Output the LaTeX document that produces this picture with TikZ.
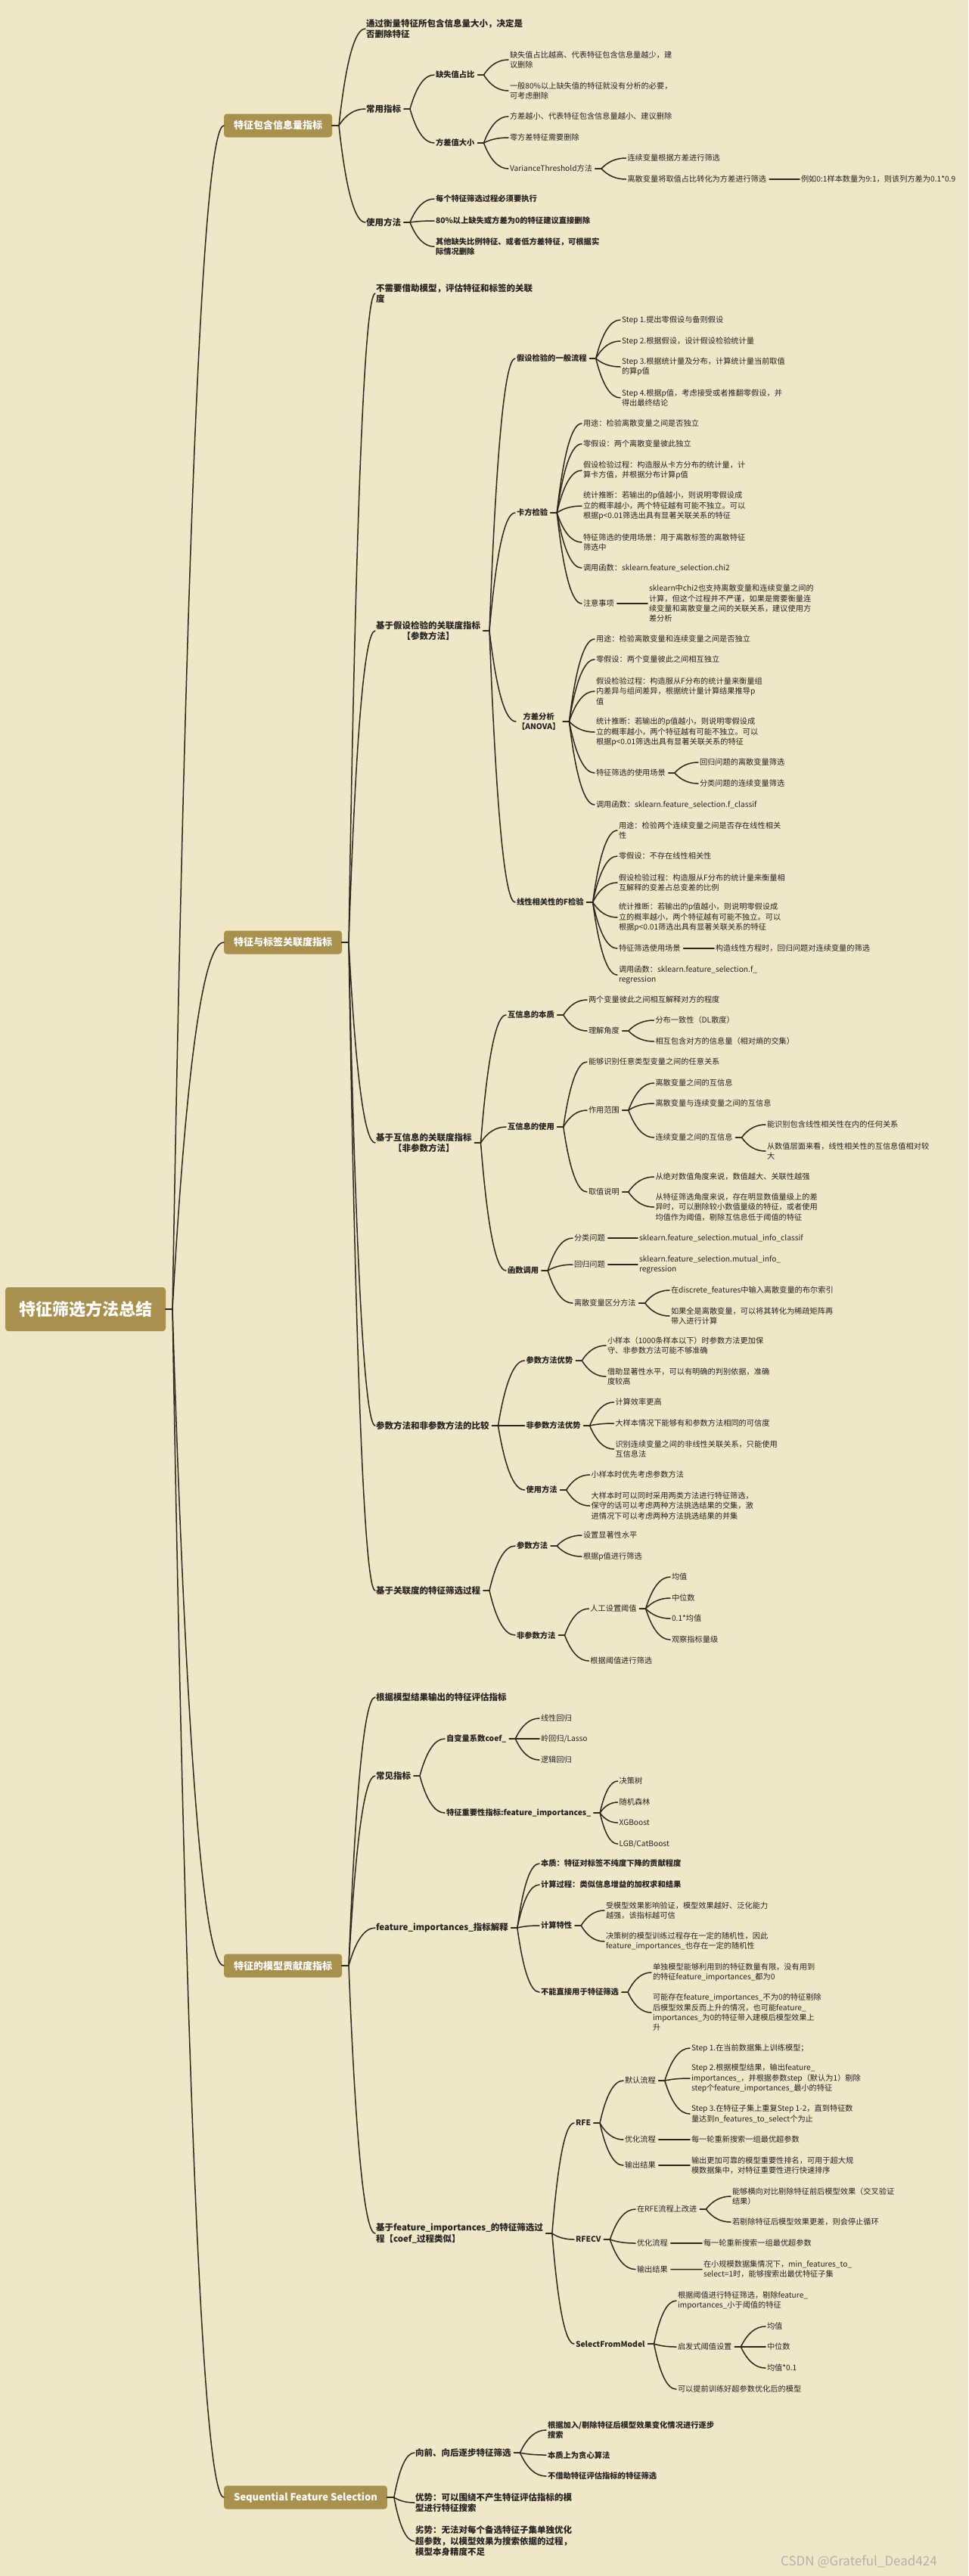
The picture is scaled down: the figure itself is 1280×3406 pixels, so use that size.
\documentclass[tikz,border=0pt]{standalone}
\usepackage{fontspec}
\setmainfont{Noto Sans CJK SC}
\usetikzlibrary{calc}
\definecolor{bg}{HTML}{F0E6C8}
\definecolor{boxc}{HTML}{A8914F}
\definecolor{ln}{HTML}{2E281C}
\definecolor{tx}{HTML}{262320}
\definecolor{wmc}{HTML}{B4B0A8}
\tikzset{
 conn/.style={draw=ln, line width=1.5pt, line cap=round},
 base/.style={anchor=west, align=left, inner sep=1pt, outer sep=0pt, text=tx},
 lvtwo/.style={base, font=\bfseries\fontsize{11.5}{14.5}\selectfont},
 lvthree/.style={base, font=\bfseries\fontsize{10.3}{13.3}\selectfont},
 lvfour/.style={base, font=\fontsize{10.2}{13.3}\selectfont},
 box/.style={anchor=west, fill=boxc, rounded corners=4pt, text=white, font=\bfseries\fontsize{13}{15}\selectfont, minimum height=31pt, inner xsep=13pt, inner ysep=2pt, outer sep=0pt},
}
\newcommand\lnk[2]{%
 \path (#1.east) ++(3pt,0) coordinate (lkA) ++(8pt,0) coordinate (lkB);
 \path (#2.west) ++(-1pt,0) coordinate (lkG);
 \path let \p1=(lkB), \p2=(lkG) in (0.6*\x1+0.4*\x2,\y2) coordinate (lkC);
 \draw[conn] (lkA) -- (lkB) .. controls ($(lkB)!0.6667!(lkC)$) and ($(lkG)!0.6667!(lkC)$) .. (lkG);}
\newcommand\lnkb[2]{%
 \path (#1.east) coordinate (lkA) ++(9pt,0) coordinate (lkB);
 \path (#2.west) coordinate (lkG);
 \path let \p1=(lkB), \p2=(lkG) in (0.6*\x1+0.4*\x2,\y2) coordinate (lkC);
 \draw[conn] (lkA) -- (lkB) .. controls ($(lkB)!0.6667!(lkC)$) and ($(lkG)!0.6667!(lkC)$) .. (lkG);}
\begin{document}
\begin{tikzpicture}[x=1pt,y=1pt]
\fill[bg] (0,0) rectangle (1280,-3406);
\useasboundingbox (0,0) rectangle (1280,-3406);

% root
\node[box, font=\bfseries\fontsize{22}{26}\selectfont, minimum height=58pt, inner xsep=18pt] (root) at (7,-1731) {特征筛选方法总结};

% level 1
\node[box] (b1) at (296,-166) {特征包含信息量指标};
\node[box] (b2) at (296,-1246) {特征与标签关联度指标};
\node[box] (b3) at (296,-2599) {特征的模型贡献度指标};
\node[box] (b4) at (296,-3302) {Sequential Feature Selection};
\lnkb{root}{b1}\lnkb{root}{b2}\lnkb{root}{b3}\lnkb{root}{b4}

% ---------- section 1
\node[lvtwo] (a1) at (483,-38) {通过衡量特征所包含信息量大小，决定是\\否删除特征};
\node[lvtwo] (a2) at (483,-144) {常用指标};
\node[lvtwo] (a3) at (483,-294) {使用方法};
\lnkb{b1}{a1}\lnkb{b1}{a2}\lnkb{b1}{a3}
\node[lvthree] (a21) at (575,-99) {缺失值占比};
\node[lvthree] (a22) at (575,-189) {方差值大小};
\lnk{a2}{a21}\lnk{a2}{a22}
\node[lvfour] (a211) at (673,-79) {缺失值占比越高、代表特征包含信息量越少，建\\议删除};
\node[lvfour] (a212) at (673,-120) {一般80\%以上缺失值的特征就没有分析的必要，\\可考虑删除};
\lnk{a21}{a211}\lnk{a21}{a212}
\node[lvfour] (a221) at (673,-154) {方差越小、代表特征包含信息量越小、建议删除};
\node[lvfour] (a222) at (673,-182) {零方差特征需要删除};
\node[lvfour] (a223) at (673,-223) {VarianceThreshold方法};
\lnk{a22}{a221}\lnk{a22}{a222}\lnk{a22}{a223}
\node[lvfour] (a2231) at (828.5,-209) {连续变量根据方差进行筛选};
\node[lvfour] (a2232) at (828.5,-237) {离散变量将取值占比转化为方差进行筛选};
\lnk{a223}{a2231}\lnk{a223}{a2232}
\node[lvfour] (a22321) at (1058,-237) {例如0:1样本数量为9:1，则该列方差为0.1*0.9};
\lnk{a2232}{a22321}
\node[lvthree] (a31) at (575,-263) {每个特征筛选过程必须要执行};
\node[lvthree] (a32) at (575,-292) {80\%以上缺失或方差为0的特征建议直接删除};
\node[lvthree] (a33) at (575,-326) {其他缺失比例特征、或者低方差特征，可根据实\\际情况删除};
\lnk{a3}{a31}\lnk{a3}{a32}\lnk{a3}{a33}

% ---------- section 2
\node[lvtwo] (c1) at (496,-388) {不需要借助模型，评估特征和标签的关联\\度};
\node[lvtwo, align=center] (c2) at (496,-834) {基于假设检验的关联度指标\\【参数方法】};
\node[lvtwo, align=center] (c3) at (496,-1511) {基于互信息的关联度指标\\【非参数方法】};
\node[lvtwo] (c4) at (496,-1885) {参数方法和非参数方法的比较};
\node[lvtwo] (c5) at (496,-2103) {基于关联度的特征筛选过程};
\lnkb{b2}{c1}\lnkb{b2}{c2}\lnkb{b2}{c3}\lnkb{b2}{c4}\lnkb{b2}{c5}

\node[lvthree] (c21) at (682,-474) {假设检验的一般流程};
\node[lvthree] (c22) at (682,-678) {卡方检验};
\node[lvthree, align=center] (c23) at (683,-954) {方差分析\\【ANOVA】};
\node[lvthree] (c24) at (682,-1193) {线性相关性的F检验};
\lnk{c2}{c21}\lnk{c2}{c22}\lnk{c2}{c23}\lnk{c2}{c24}

\node[lvfour] (c211) at (821,-423) {Step 1.提出零假设与备则假设};
\node[lvfour] (c212) at (821,-451) {Step 2.根据假设，设计假设检验统计量};
\node[lvfour] (c213) at (821,-485) {Step 3.根据统计量及分布，计算统计量当前取值\\的算p值};
\node[lvfour] (c214) at (821,-526) {Step 4.根据p值，考虑接受或者推翻零假设，并\\得出最终结论};
\lnk{c21}{c211}\lnk{c21}{c212}\lnk{c21}{c213}\lnk{c21}{c214}

\node[lvfour] (c221) at (770,-560) {用途：检验离散变量之间是否独立};
\node[lvfour] (c222) at (770,-587) {零假设：两个离散变量彼此独立};
\node[lvfour] (c223) at (770,-622) {假设检验过程：构造服从卡方分布的统计量，计\\算卡方值，并根据分布计算p值};
\node[lvfour] (c224) at (770,-669) {统计推断：若输出的p值越小，则说明零假设成\\立的概率越小，两个特征越有可能不独立。可以\\根据p<0.01筛选出具有显著关联关系的特征};
\node[lvfour] (c225) at (770,-717) {特征筛选的使用场景：用于离散标签的离散特征\\筛选中};
\node[lvfour] (c226) at (770,-751) {调用函数：sklearn.feature\_selection.chi2};
\node[lvfour] (c227) at (770,-798) {注意事项};
\lnk{c22}{c221}\lnk{c22}{c222}\lnk{c22}{c223}\lnk{c22}{c224}\lnk{c22}{c225}\lnk{c22}{c226}\lnk{c22}{c227}
\node[lvfour] (c2271) at (857,-798) {sklearn中chi2也支持离散变量和连续变量之间的\\计算，但这个过程并不严谨，如果是需要衡量连\\续变量和离散变量之间的关联关系，建议使用方\\差分析};
\lnk{c227}{c2271}

\node[lvfour] (c231) at (787,-845) {用途：检验离散变量和连续变量之间是否独立};
\node[lvfour] (c232) at (787,-872) {零假设：两个变量彼此之间相互独立};
\node[lvfour] (c233) at (787,-914) {假设检验过程：构造服从F分布的统计量来衡量组\\内差异与组间差异，根据统计量计算结果推导p\\值};
\node[lvfour] (c234) at (787,-968) {统计推断：若输出的p值越小，则说明零假设成\\立的概率越小，两个特征越有可能不独立。可以\\根据p<0.01筛选出具有显著关联关系的特征};
\node[lvfour] (c235) at (787,-1022) {特征筛选的使用场景};
\node[lvfour] (c236) at (787,-1064) {调用函数：sklearn.feature\_selection.f\_classif};
\lnk{c23}{c231}\lnk{c23}{c232}\lnk{c23}{c233}\lnk{c23}{c234}\lnk{c23}{c235}\lnk{c23}{c236}
\node[lvfour] (c2351) at (924,-1008) {回归问题的离散变量筛选};
\node[lvfour] (c2352) at (924,-1036) {分类问题的连续变量筛选};
\lnk{c235}{c2351}\lnk{c235}{c2352}

\node[lvfour] (c241) at (817,-1098) {用途：检验两个连续变量之间是否存在线性相关\\性};
\node[lvfour] (c242) at (817,-1132) {零假设：不存在线性相关性};
\node[lvfour] (c243) at (817,-1167) {假设检验过程：构造服从F分布的统计量来衡量相\\互解释的变差占总变差的比例};
\node[lvfour] (c244) at (817,-1213) {统计推断：若输出的p值越小，则说明零假设成\\立的概率越小，两个特征越有可能不独立。可以\\根据p<0.01筛选出具有显著关联关系的特征};
\node[lvfour] (c245) at (817,-1254) {特征筛选使用场景};
\node[lvfour] (c246) at (817,-1289) {调用函数：sklearn.feature\_selection.f\_\\regression};
\lnk{c24}{c241}\lnk{c24}{c242}\lnk{c24}{c243}\lnk{c24}{c244}\lnk{c24}{c245}\lnk{c24}{c246}
\node[lvfour] (c2451) at (945,-1254) {构造线性方程时，回归问题对连续变量的筛选};
\lnk{c245}{c2451}

\node[lvthree] (c31) at (670,-1342) {互信息的本质};
\node[lvthree] (c32) at (670,-1490) {互信息的使用};
\node[lvthree] (c33) at (670,-1680) {函数调用};
\lnk{c3}{c31}\lnk{c3}{c32}\lnk{c3}{c33}
\node[lvfour] (c311) at (777,-1322) {两个变量彼此之间相互解释对方的程度};
\node[lvfour] (c312) at (777,-1363) {理解角度};
\lnk{c31}{c311}\lnk{c31}{c312}
\node[lvfour] (c3121) at (865.5,-1349) {分布一致性（DL散度）};
\node[lvfour] (c3122) at (865.5,-1377) {相互包含对方的信息量（相对熵的交集）};
\lnk{c312}{c3121}\lnk{c312}{c3122}
\node[lvfour] (c321) at (777,-1404) {能够识别任意类型变量之间的任意关系};
\node[lvfour] (c322) at (777,-1468) {作用范围};
\node[lvfour] (c323) at (777,-1576) {取值说明};
\lnk{c32}{c321}\lnk{c32}{c322}\lnk{c32}{c323}
\node[lvfour] (c3221) at (865.5,-1432) {离散变量之间的互信息};
\node[lvfour] (c3222) at (865.5,-1459) {离散变量与连续变量之间的互信息};
\node[lvfour] (c3223) at (865.5,-1504) {连续变量之间的互信息};
\lnk{c322}{c3221}\lnk{c322}{c3222}\lnk{c322}{c3223}
\node[lvfour] (c32231) at (1013,-1487) {能识别包含线性相关性在内的任何关系};
\node[lvfour] (c32232) at (1013,-1522) {从数值层面来看，线性相关性的互信息值相对较\\大};
\lnk{c3223}{c32231}\lnk{c3223}{c32232}
\node[lvfour] (c3231) at (865.5,-1556) {从绝对数值角度来说，数值越大、关联性越强};
\node[lvfour] (c3232) at (865.5,-1596) {从特征筛选角度来说，存在明显数值量级上的差\\异时，可以删除较小数值量级的特征，或者使用\\均值作为阈值，剔除互信息低于阈值的特征};
\lnk{c323}{c3231}\lnk{c323}{c3232}
\node[lvfour] (c331) at (758,-1637) {分类问题};
\node[lvfour] (c332) at (758,-1672) {回归问题};
\node[lvfour] (c333) at (758,-1723) {离散变量区分方法};
\lnk{c33}{c331}\lnk{c33}{c332}\lnk{c33}{c333}
\node[lvfour] (c3311) at (844,-1637) {sklearn.feature\_selection.mutual\_info\_classif};
\node[lvfour] (c3321) at (844,-1672) {sklearn.feature\_selection.mutual\_info\_\\regression};
\lnk{c331}{c3311}\lnk{c332}{c3321}
\node[lvfour] (c3331) at (886,-1706) {在discrete\_features中输入离散变量的布尔索引};
\node[lvfour] (c3332) at (886,-1740) {如果全是离散变量，可以将其转化为稀疏矩阵再\\带入进行计算};
\lnk{c333}{c3331}\lnk{c333}{c3332}

\node[lvthree] (c41) at (694.5,-1799) {参数方法优势};
\node[lvthree] (c42) at (694.5,-1885) {非参数方法优势};
\node[lvthree] (c43) at (694.5,-1970) {使用方法};
\lnk{c4}{c41}\lnk{c4}{c42}\lnk{c4}{c43}
\node[lvfour] (c411) at (802,-1779) {小样本（1000条样本以下）时参数方法更加保\\守、非参数方法可能不够准确};
\node[lvfour] (c412) at (802,-1820) {借助显著性水平，可以有明确的判别依据，准确\\度较高};
\lnk{c41}{c411}\lnk{c41}{c412}
\node[lvfour] (c421) at (812.5,-1854) {计算效率更高};
\node[lvfour] (c422) at (812.5,-1882) {大样本情况下能够有和参数方法相同的可信度};
\node[lvfour] (c423) at (812.5,-1916) {识别连续变量之间的非线性关联关系，只能使用\\互信息法};
\lnk{c42}{c421}\lnk{c42}{c422}\lnk{c42}{c423}
\node[lvfour] (c431) at (780.6,-1950) {小样本时优先考虑参数方法};
\node[lvfour] (c432) at (780.6,-1991) {大样本时可以同时采用两类方法进行特征筛选，\\保守的话可以考虑两种方法挑选结果的交集，激\\进情况下可以考虑两种方法挑选结果的并集};
\lnk{c43}{c431}\lnk{c43}{c432}

\node[lvthree] (c51) at (682,-2044) {参数方法};
\node[lvthree] (c52) at (682,-2162) {非参数方法};
\lnk{c5}{c51}\lnk{c5}{c52}
\node[lvfour] (c511) at (770,-2030) {设置显著性水平};
\node[lvfour] (c512) at (770,-2058) {根据p值进行筛选};
\lnk{c51}{c511}\lnk{c51}{c512}
\node[lvfour] (c521) at (779.4,-2127) {人工设置阈值};
\node[lvfour] (c522) at (779.4,-2196) {根据阈值进行筛选};
\lnk{c52}{c521}\lnk{c52}{c522}
\node[lvfour] (c5211) at (887,-2085) {均值};
\node[lvfour] (c5212) at (887,-2113) {中位数};
\node[lvfour] (c5213) at (887,-2140) {0.1*均值};
\node[lvfour] (c5214) at (887,-2168) {观察指标量级};
\lnk{c521}{c5211}\lnk{c521}{c5212}\lnk{c521}{c5213}\lnk{c521}{c5214}

% ---------- section 3
\node[lvtwo] (d1) at (496,-2244) {根据模型结果输出的特征评估指标};
\node[lvtwo] (d2) at (496,-2348) {常见指标};
\node[lvtwo] (d3) at (496,-2549) {feature\_importances\_指标解释};
\node[lvtwo] (d4) at (496,-2953) {基于feature\_importances\_的特征筛选过\\程【coef\_过程类似】};
\lnkb{b3}{d1}\lnkb{b3}{d2}\lnkb{b3}{d3}\lnkb{b3}{d4}

\node[lvthree] (d21) at (589,-2299) {自变量系数coef\_};
\node[lvthree] (d22) at (589,-2397) {特征重要性指标:feature\_importances\_};
\lnk{d2}{d21}\lnk{d2}{d22}
\node[lvfour] (d211) at (714,-2272) {线性回归};
\node[lvfour] (d212) at (714,-2299) {岭回归/Lasso};
\node[lvfour] (d213) at (714,-2327) {逻辑回归};
\lnk{d21}{d211}\lnk{d21}{d212}\lnk{d21}{d213}
\node[lvfour] (d221) at (817.6,-2355) {决策树};
\node[lvfour] (d222) at (817.6,-2383) {随机森林};
\node[lvfour] (d223) at (817.6,-2410) {XGBoost};
\node[lvfour] (d224) at (817.6,-2438) {LGB/CatBoost};
\lnk{d22}{d221}\lnk{d22}{d222}\lnk{d22}{d223}\lnk{d22}{d224}

\node[lvthree] (d31) at (714,-2464) {本质：特征对标签不纯度下降的贡献程度};
\node[lvthree] (d32) at (714,-2492) {计算过程：类似信息增益的加权求和结果};
\node[lvthree] (d33) at (714,-2546) {计算特性};
\node[lvthree] (d34) at (714,-2634) {不能直接用于特征筛选};
\lnk{d3}{d31}\lnk{d3}{d32}\lnk{d3}{d33}\lnk{d3}{d34}
\node[lvfour] (d331) at (800,-2526) {受模型效果影响验证，模型效果越好、泛化能力\\越强，该指标越可信};
\node[lvfour] (d332) at (800,-2567) {决策树的模型训练过程存在一定的随机性，因此\\feature\_importances\_也存在一定的随机性};
\lnk{d33}{d331}\lnk{d33}{d332}
\node[lvfour] (d341) at (862,-2608) {单独模型能够利用到的特征数量有限，没有用到\\的特征feature\_importances\_都为0};
\node[lvfour] (d342) at (862,-2661) {可能存在feature\_importances\_不为0的特征剔除\\后模型效果反而上升的情况，也可能feature\_\\importances\_为0的特征带入建模后模型效果上\\升};
\lnk{d34}{d341}\lnk{d34}{d342}

\node[lvthree] (d41) at (760,-2807) {RFE};
\node[lvthree] (d42) at (760,-2961) {RFECV};
\node[lvthree] (d43) at (760,-3099) {SelectFromModel};
\lnk{d4}{d41}\lnk{d4}{d42}\lnk{d4}{d43}
\node[lvfour] (d411) at (825,-2751) {默认流程};
\node[lvfour] (d412) at (825,-2829) {优化流程};
\node[lvfour] (d413) at (825,-2863) {输出结果};
\lnk{d41}{d411}\lnk{d41}{d412}\lnk{d41}{d413}
\node[lvfour] (d4111) at (913,-2708) {Step 1.在当前数据集上训练模型；};
\node[lvfour] (d4112) at (913,-2748) {Step 2.根据模型结果，输出feature\_\\importances\_，并根据参数step（默认为1）剔除\\step个feature\_importances\_最小的特征};
\node[lvfour] (d4113) at (913,-2795) {Step 3.在特征子集上重复Step 1-2，直到特征数\\量达到n\_features\_to\_select个为止};
\lnk{d411}{d4111}\lnk{d411}{d4112}\lnk{d411}{d4113}
\node[lvfour] (d4121) at (913,-2829) {每一轮重新搜索一组最优超参数};
\lnk{d412}{d4121}
\node[lvfour] (d4131) at (913,-2863) {输出更加可靠的模型重要性排名，可用于超大规\\模数据集中，对特征重要性进行快速排序};
\lnk{d413}{d4131}
\node[lvfour] (d421) at (841,-2921) {在RFE流程上改进};
\node[lvfour] (d422) at (841,-2966) {优化流程};
\node[lvfour] (d423) at (841,-3000.5) {输出结果};
\lnk{d42}{d421}\lnk{d42}{d422}\lnk{d42}{d423}
\node[lvfour] (d4211) at (967,-2904) {能够横向对比剔除特征前后模型效果（交叉验证\\结果）};
\node[lvfour] (d4212) at (967,-2938) {若剔除特征后模型效果更差，则会停止循环};
\lnk{d421}{d4211}\lnk{d421}{d4212}
\node[lvfour] (d4221) at (929,-2966) {每一轮重新搜索一组最优超参数};
\lnk{d422}{d4221}
\node[lvfour] (d4231) at (929,-3000.5) {在小规模数据集情况下，min\_features\_to\_\\select=1时，能够搜索出最优特征子集};
\lnk{d423}{d4231}
\node[lvfour] (d431) at (895,-3042) {根据阈值进行特征筛选，剔除feature\_\\importances\_小于阈值的特征};
\node[lvfour] (d432) at (895,-3103) {启发式阈值设置};
\node[lvfour] (d433) at (895,-3159) {可以提前训练好超参数优化后的模型};
\lnk{d43}{d431}\lnk{d43}{d432}\lnk{d43}{d433}
\node[lvfour] (d4321) at (1013,-3076) {均值};
\node[lvfour] (d4322) at (1013,-3103) {中位数};
\node[lvfour] (d4323) at (1013,-3131) {均值*0.1};
\lnk{d432}{d4321}\lnk{d432}{d4322}\lnk{d432}{d4323}

% ---------- section 4
\node[lvtwo] (e1) at (548,-3243) {向前、向后逐步特征筛选};
\node[lvtwo] (e2) at (548,-3309) {优势：可以围绕不产生特征评估指标的模\\型进行特征搜索};
\node[lvtwo] (e3) at (548,-3360) {劣势：无法对每个备选特征子集单独优化\\超参数，以模型效果为搜索依据的过程，\\模型本身精度不足};
\lnkb{b4}{e1}\lnkb{b4}{e2}\lnkb{b4}{e3}
\node[lvthree] (e11) at (723,-3213) {根据加入/剔除特征后模型效果变化情况进行逐步\\搜索};
\node[lvthree] (e12) at (723,-3246) {本质上为贪心算法};
\node[lvthree] (e13) at (723,-3274) {不借助特征评估指标的特征筛选};
\lnk{e1}{e11}\lnk{e1}{e12}\lnk{e1}{e13}

\node[anchor=west, inner sep=0pt, text=wmc, font=\fontsize{17}{20}\selectfont] (wm) at (1032,-3387) {CSDN @Grateful\_Dead424};
\end{tikzpicture}
\end{document}
